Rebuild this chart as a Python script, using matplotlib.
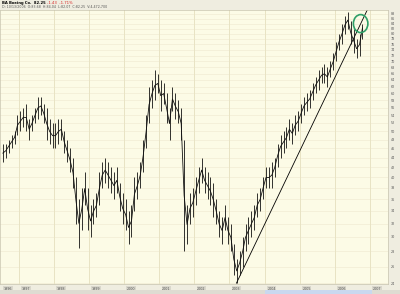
import matplotlib
matplotlib.use('Agg')
import matplotlib.pyplot as plt
import matplotlib.transforms as mtransforms
from matplotlib.patches import Ellipse, Rectangle
import numpy as np

### BA monthly highs / lows, Jul 1996 .. Oct 2006 ###
hi_1996 = [47, 47, 48, 49, 50, 54]
lo_1996 = [43, 44, 45, 46, 47, 49]
hi_1997 = [55, 56, 57, 53, 54, 56, 59, 59, 57, 56, 53, 52]
lo_1997 = [50, 51, 50, 48, 50, 52, 53, 54, 52, 48, 47, 46]
hi_1998 = [52, 53, 53, 50, 48, 46, 44, 40, 36, 38, 41, 38]
lo_1998 = [46, 47, 48, 45, 43, 41, 38, 32, 28.5, 31, 35, 31]
hi_1999 = [35, 36, 37, 41, 43, 44, 43, 42, 41, 42, 39, 37]
lo_1999 = [30, 32, 33, 35, 38, 39, 38, 37, 36, 37, 34, 32]
hi_2000 = [36, 34, 35, 40, 41, 43, 48, 54, 62, 64, 67, 66]
lo_2000 = [31, 29, 30, 34, 36, 38, 41, 46, 52, 56, 58, 60]
hi_2001 = [64, 63, 60, 56, 62, 60, 58, 56, 48, 35, 37, 38]
lo_2001 = [55, 57, 52, 48, 55, 53, 52, 48, 28, 29, 32, 33]
hi_2002 = [40, 42, 44, 42, 41, 40, 39, 36, 34, 33, 35, 33]
lo_2002 = [35, 37, 39, 37, 36, 35, 33, 32, 30, 29, 31, 29]
hi_2003 = [32, 29, 27, 28, 30, 32, 33, 34, 35, 37, 38, 40]
lo_2003 = [28, 25, 24, 25, 26, 28, 29, 30, 31, 33, 34, 36]
hi_2004 = [42, 42, 43, 44, 47, 49, 50, 51, 53, 52, 54, 55]
lo_2004 = [38, 38, 38, 40, 42, 44, 45, 46, 48, 47, 49, 50]
hi_2005 = [57, 59, 60, 61, 63, 65, 67, 68, 69, 68, 70, 73]
lo_2005 = [52, 54, 55, 56, 58, 60, 61, 63, 63, 62, 65, 67]
hi_2006 = [77, 80, 84, 87, 89, 85, 82, 78, 80, 84]
lo_2006 = [70, 74, 76, 80, 82, 76, 73, 71, 72, 78]
last_close = 82.25

# trendline off the March 2003 low
trend_t = [2003.2, 2007.0]
trend_v = [24.0, 92.0]

# circled bounce
circle_t = 2006.74
circle_v = 84.0

years = list(range(1996, 2008))
y_ticks = list(range(24, 90, 2))

title_txt = 'BA Boeing Co.  82.25'
change_txt = '-1.43  -1.71%'
info_txt = 'D: 10/13/2006  O:83.68  H:84.04  L:82.07  C:82.25  V:4,472,700'

hi = np.array(hi_1996 + hi_1997 + hi_1998 + hi_1999 + hi_2000 + hi_2001 +
			  hi_2002 + hi_2003 + hi_2004 + hi_2005 + hi_2006, dtype=float)
lo = np.array(lo_1996 + lo_1997 + lo_1998 + lo_1999 + lo_2000 + lo_2001 +
			  lo_2002 + lo_2003 + lo_2004 + lo_2005 + lo_2006, dtype=float)
t = 1996.5 + (np.arange(len(hi)) + 0.5) / 12.0
mid = np.sqrt(hi * lo)
mid[-1] = last_close

bg = '#fcfbe6'
grid_c = '#e8e3c3'

fig = plt.figure(figsize=(4.0, 2.94), dpi=100)
fig.patch.set_facecolor('#efede0')
ax = fig.add_axes([0.0, 10/294, 388/400, 274/294])
ax.set_facecolor(bg)

ax.set_yscale('log')
ax.set_xlim(1996.46, 2007.52)
ax.set_ylim(23.9, 89.7)

#grid
for yv in y_ticks:
	ax.axhline(yv, color='#f1ecd4', lw=0.5, zorder=0)
for yr in years[1:]:
	ax.axvline(yr, color=grid_c, lw=0.7, zorder=0)

#price bars
ax.vlines(t, lo, hi, color='#111111', lw=0.6, zorder=3)
ax.plot(t, mid, color='#111111', lw=0.6, zorder=3)

#trendline
ax.plot(trend_t, trend_v, color='black', lw=0.6, zorder=2)

#circle
circ_tr = fig.dpi_scale_trans + mtransforms.ScaledTranslation(circle_t, circle_v, ax.transData)
ax.add_patch(Ellipse((0, 0), 0.145, 0.18, transform=circ_tr, fill=False,
					 edgecolor='#2f9f68', lw=1.2, zorder=4, clip_on=False))

#right axis
ax.yaxis.tick_right()
ax.set_yticks(y_ticks)
ax.set_yticklabels([str(v) for v in y_ticks])
ax.yaxis.set_minor_locator(matplotlib.ticker.NullLocator())
ax.tick_params(axis='y', length=0, labelsize=2.4, labelcolor='#555555', pad=2)
ax.set_xticks([])
for s in ax.spines.values():
	s.set_color('#c8c4ae')
	s.set_linewidth(0.5)

#year labels along the bottom strip
for yr in years:
	xp = max(yr, 1996.48) + 0.08
	ax.text(xp, -0.018, str(yr), transform=ax.get_xaxis_transform(), fontsize=2.4,
			color='#555555', ha='left', va='center',
			bbox=dict(boxstyle='square,pad=0.15', fc='#d9d7cc', ec='none'))

#scroll bar
fig.patches.append(Rectangle((0, 0), 1, 4/294, transform=fig.transFigure, fc='#dedcd2', ec='none'))
fig.patches.append(Rectangle((265/400, 0), 107/400, 4/294, transform=fig.transFigure, fc='#c9d8ef', ec='none'))

#header
fig.text(2/400, 1 - 3/294, title_txt, fontsize=2.7, fontweight='bold', color='black', va='center')
fig.text(47/400, 1 - 3/294, change_txt, fontsize=2.7, color='#d62020', va='center')
fig.text(2/400, 1 - 7.5/294, info_txt, fontsize=2.3, color='#555555', va='center')

plt.savefig('out.png', dpi=100, facecolor=fig.get_facecolor())
